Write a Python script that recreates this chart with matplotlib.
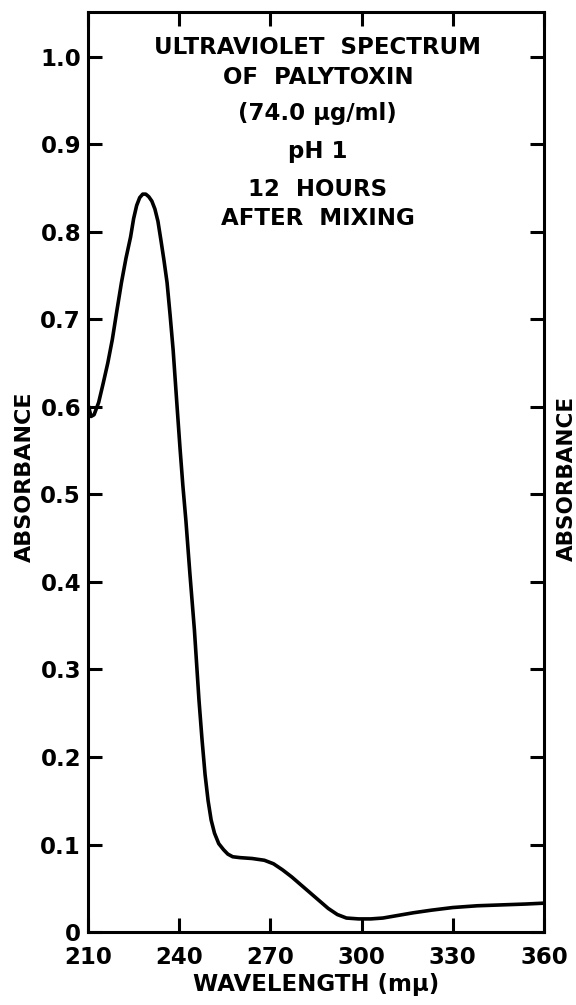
import matplotlib
matplotlib.use('Agg')
import matplotlib.pyplot as plt

plt.rcParams['font.family'] = ['DejaVu Sans']
plt.rcParams['font.weight'] = 'bold'

# UV spectrum
wavelength = [210, 211, 212, 213.5, 215, 216.5, 218, 219.5, 221, 222.5, 224,
              225, 226, 227, 228, 229, 230, 231, 232, 233, 234, 235, 236, 237,
              238, 239.3, 240.3, 241.2, 242.2, 243.5, 245, 246.5, 247.5, 248.5,
              249.5, 250.5, 251.6, 253, 254.6, 256, 257.6, 260, 264, 268, 271,
              274, 277, 280, 283, 286, 289, 292, 295, 299, 303, 307, 312, 317,
              323, 330, 338, 346, 354, 360]
absorbance = [0.603, 0.589, 0.591, 0.605, 0.627, 0.65, 0.677, 0.71, 0.742,
              0.77, 0.794, 0.815, 0.83, 0.839, 0.843, 0.843, 0.84, 0.835,
              0.826, 0.812, 0.79, 0.767, 0.742, 0.705, 0.665, 0.60, 0.551,
              0.51, 0.47, 0.41, 0.345, 0.265, 0.22, 0.18, 0.15, 0.128, 0.113,
              0.101, 0.094, 0.089, 0.086, 0.085, 0.084, 0.082, 0.078, 0.071,
              0.063, 0.054, 0.045, 0.036, 0.027, 0.02, 0.016, 0.015, 0.015,
              0.016, 0.019, 0.022, 0.025, 0.028, 0.030, 0.031, 0.032, 0.033]

x_ticks = [210, 240, 270, 300, 330, 360]
y_ticks = [0, 0.1, 0.2, 0.3, 0.4, 0.5, 0.6, 0.7, 0.8, 0.9, 1.0]
y_tick_labels = ['0', '0.1', '0.2', '0.3', '0.4', '0.5', '0.6', '0.7', '0.8', '0.9', '1.0']

title_lines = ['ULTRAVIOLET  SPECTRUM', 'OF  PALYTOXIN', '(74.0 \u03bcg/ml)',
               'pH 1', '12  HOURS', 'AFTER  MIXING']
title_y = [0.962, 0.929, 0.890, 0.848, 0.807, 0.776]

fig = plt.figure(figsize=(5.76, 10.05), dpi=100)
ax = fig.add_axes([0.1528, 0.0726, 0.7917, 0.9154])

ax.plot(wavelength, absorbance, color='black', lw=2.6,
        solid_capstyle='round', solid_joinstyle='round')

ax.set_xlim(210, 360)
ax.set_ylim(0, 1.051)
ax.set_xticks(x_ticks)
ax.set_yticks(y_ticks)
ax.set_yticklabels(y_tick_labels)

for s in ax.spines.values():
    s.set_linewidth(2.2)
ax.tick_params(direction='in', length=10, width=2.2, top=True, right=True,
               labelsize=16.5)
ax.tick_params(axis='x', pad=10)
ax.tick_params(axis='y', pad=5)

ax.set_xlabel('WAVELENGTH (m\u03bc)', fontsize=16.5, fontweight='bold', labelpad=3)
ax.set_ylabel('ABSORBANCE', fontsize=16, fontweight='bold', va='center')
ax.yaxis.set_label_coords(-0.138, 0.495)

for line, yy in zip(title_lines, title_y):
    ax.text(0.504, yy, line, transform=ax.transAxes, ha='center', va='center',
            fontsize=16.5, fontweight='bold')

# label of the neighbouring panel at the page edge
fig.text(0.984, 0.524, 'ABSORBANCE', rotation=90, ha='center', va='center',
         fontsize=15.5, fontweight='bold')

fig.savefig('out.png', dpi=100)
